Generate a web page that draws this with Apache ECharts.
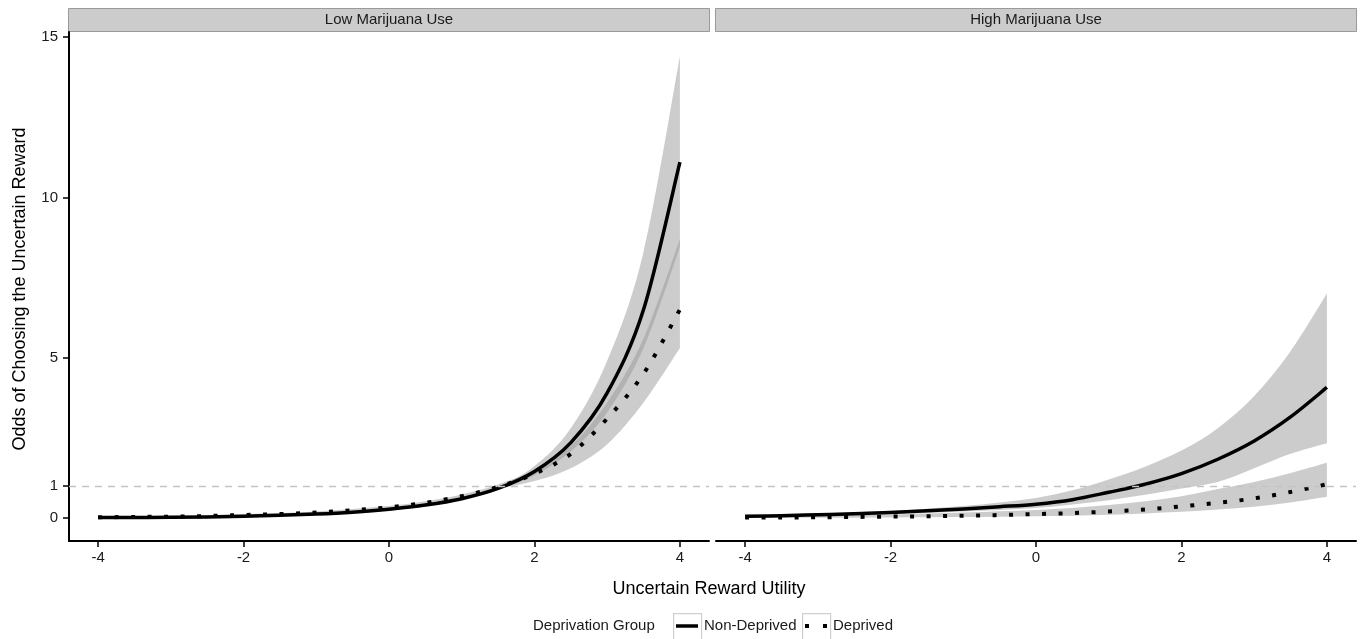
<!DOCTYPE html>
<html>
<head>
<meta charset="utf-8">
<script src="https://cdn.jsdelivr.net/npm/echarts@6/dist/echarts.min.js"></script>
<style>
  html, body { margin: 0; padding: 0; background: #fff; }
  #container { width: 1361px; height: 639px; }
</style>
</head>
<body>
<div id="container"></div>
<script>
// utility values where the curves were read
var xs = [-4, -3.5, -3, -2.5, -2, -1.5, -1, -0.5, 0, 0.5, 1, 1.5, 2, 2.5, 3, 3.5, 4];
var panels = ['Low Marijuana Use', 'High Marijuana Use'];
var groups = ['Non-Deprived', 'Deprived'];
var yTicks = [0, 1, 5, 10, 15];
var xTicks = [-4, -2, 0, 2, 4];

// Low marijuana use
var lowNonDep      = [0.01, 0.015, 0.02, 0.03, 0.05, 0.08, 0.12, 0.18, 0.27, 0.4, 0.6, 0.92, 1.45, 2.35, 3.9, 6.5, 11.1];
var lowNonDepUpper = [0.016, 0.022, 0.029, 0.043, 0.068, 0.1, 0.15, 0.21, 0.31, 0.44, 0.64, 0.97, 1.62, 2.8, 4.9, 8.3, 14.4];
var lowNonDepLower = [0.006, 0.01, 0.014, 0.021, 0.037, 0.062, 0.096, 0.15, 0.235, 0.36, 0.57, 0.88, 1.33, 2.08, 3.3, 5.3, 8.45];
var lowDep         = [0.02, 0.03, 0.04, 0.06, 0.09, 0.12, 0.17, 0.24, 0.33, 0.47, 0.68, 0.97, 1.38, 2.0, 3.1, 4.5, 6.5];
var lowDepUpper    = [0.03, 0.04, 0.055, 0.08, 0.115, 0.15, 0.2, 0.28, 0.37, 0.52, 0.73, 1.04, 1.5, 2.25, 3.6, 5.6, 8.7];
var lowDepLower    = [0.013, 0.02, 0.03, 0.045, 0.07, 0.095, 0.14, 0.2, 0.29, 0.42, 0.62, 0.9, 1.15, 1.55, 2.3, 3.6, 5.3];

// High marijuana use
var highNonDep      = [0.05, 0.07, 0.1, 0.13, 0.17, 0.22, 0.28, 0.35, 0.43, 0.57, 0.8, 1.05, 1.38, 1.83, 2.4, 3.15, 4.07];
var highNonDepUpper = [0.07, 0.1, 0.13, 0.17, 0.22, 0.29, 0.37, 0.48, 0.62, 0.86, 1.2, 1.6, 2.1, 2.8, 3.8, 5.2, 7.0];
var highNonDepLower = [0.035, 0.05, 0.07, 0.09, 0.12, 0.15, 0.2, 0.25, 0.31, 0.42, 0.55, 0.72, 0.92, 1.12, 1.55, 2.0, 2.33];
var highDep         = [0.01, 0.015, 0.02, 0.03, 0.04, 0.05, 0.07, 0.09, 0.12, 0.15, 0.2, 0.26, 0.36, 0.47, 0.61, 0.81, 1.05];
var highDepUpper    = [0.04, 0.05, 0.07, 0.09, 0.11, 0.14, 0.17, 0.21, 0.25, 0.31, 0.4, 0.52, 0.68, 0.9, 1.12, 1.4, 1.72];
var highDepLower    = [0.003, 0.004, 0.006, 0.009, 0.012, 0.018, 0.025, 0.035, 0.05, 0.07, 0.1, 0.14, 0.19, 0.26, 0.35, 0.48, 0.66];

var FONT = '"Liberation Sans", Arial, Helvetica, sans-serif';
var SOLID = { stroke: '#000', lineWidth: 3.5, fill: null };
var DOTTED = { stroke: '#000', lineWidth: 4, lineDash: [4, 12.5], lineCap: 'butt', fill: null };

// catmull-rom through the projected points -> bezier path segments
function curve(p) {
    var s = '';
    var n = p.length;
    for (var i = 0; i < n - 1; i++) {
        var p0 = p[Math.max(i - 1, 0)], p1 = p[i], p2 = p[i + 1], p3 = p[Math.min(i + 2, n - 1)];
        var c1x = p1[0] + (p2[0] - p0[0]) / 6, c1y = p1[1] + (p2[1] - p0[1]) / 6;
        var c2x = p2[0] - (p3[0] - p1[0]) / 6, c2y = p2[1] - (p3[1] - p1[1]) / 6;
        s += 'C' + c1x + ',' + c1y + ' ' + c2x + ',' + c2y + ' ' + p2[0] + ',' + p2[1];
    }
    return s;
}

function project(api, ys) {
    return xs.map(function (x, i) { return api.coord([x, ys[i]]); });
}

function band(idx, upper, lower) {
    return {
        type: 'custom',
        xAxisIndex: idx,
        yAxisIndex: idx,
        silent: true,
        z: 1,
        data: [[0, 0]],
        renderItem: function (params, api) {
            var up = project(api, upper);
            var lo = project(api, lower).reverse();
            var d = 'M' + up[0][0] + ',' + up[0][1] + curve(up) +
                    'L' + lo[0][0] + ',' + lo[0][1] + curve(lo) + 'Z';
            return {
                type: 'path',
                shape: { pathData: d },
                style: { fill: 'rgba(150,150,150,0.486)', stroke: null }
            };
        }
    };
}

function line(idx, name, ys, dotted) {
    var s = {
        type: 'custom',
        name: name,
        xAxisIndex: idx,
        yAxisIndex: idx,
        silent: true,
        z: dotted ? 4 : 3,
        data: [[0, 0]],
        renderItem: function (params, api) {
            var p = project(api, ys);
            return {
                type: 'path',
                shape: { pathData: 'M' + p[0][0] + ',' + p[0][1] + curve(p) },
                style: dotted ? DOTTED : SOLID
            };
        }
    };
    if (dotted) {
        s.markLine = {
            silent: true,
            symbol: 'none',
            label: { show: false },
            lineStyle: { color: '#c4c4c4', type: [7, 6], width: 1.3 },
            data: [{ yAxis: 1 }]
        };
    }
    return s;
}

var grids = [
    { left: 69, width: 640, top: 32, height: 509 },
    { left: 716, width: 640, top: 32, height: 509 }
];

var xAxes = grids.map(function (g, i) {
    return {
        type: 'value', gridIndex: i, min: -4.4, max: 4.4,
        axisLine: { show: true, onZero: false, lineStyle: { color: '#000', width: 2 } },
        axisTick: { show: true, length: 6, customValues: xTicks, lineStyle: { color: '#000', width: 1.5 } },
        axisLabel: { customValues: xTicks, margin: 9, color: '#1a1a1a', fontSize: 15, fontFamily: FONT },
        splitLine: { show: false }
    };
});

var yAxes = grids.map(function (g, i) {
    return {
        type: 'value', gridIndex: i, min: -0.72, max: 15.16,
        axisLine: { show: i === 0, onZero: false, lineStyle: { color: '#000', width: 2 } },
        axisTick: { show: i === 0, length: 6, customValues: yTicks, lineStyle: { color: '#000', width: 1.5 } },
        axisLabel: { show: i === 0, customValues: yTicks, margin: 11, color: '#1a1a1a', fontSize: 15, fontFamily: FONT },
        splitLine: { show: false }
    };
});

var series = [
    band(0, lowNonDepUpper, lowNonDepLower),
    band(0, lowDepUpper, lowDepLower),
    band(1, highNonDepUpper, highNonDepLower),
    band(1, highDepUpper, highDepLower),
    line(0, groups[0], lowNonDep, false),
    line(0, groups[1], lowDep, true),
    line(1, groups[0], highNonDep, false),
    line(1, groups[1], highDep, true)
];

// facet strips, axis titles and the legend
var graphic = [];
grids.forEach(function (g, i) {
    graphic.push({
        type: 'rect', left: g.left - 1, top: 8,
        shape: { width: g.width + 1, height: 23 },
        style: { fill: '#cccccc', stroke: '#9a9a9a', lineWidth: 1 }
    });
    graphic.push({
        type: 'text', x: g.left + g.width / 2, y: 20,
        style: { text: panels[i], fill: '#1a1a1a', font: '15px ' + FONT, textAlign: 'center', textVerticalAlign: 'middle' }
    });
});
graphic.push({
    type: 'text', x: 709, y: 589,
    style: { text: 'Uncertain Reward Utility', fill: '#000', font: '18px ' + FONT, textAlign: 'center', textVerticalAlign: 'middle' }
});
graphic.push({
    type: 'text', x: 20, y: 289, rotation: Math.PI / 2,
    style: { text: 'Odds of Choosing the Uncertain Reward', fill: '#000', font: '18px ' + FONT, textAlign: 'center', textVerticalAlign: 'middle' }
});
graphic.push({
    type: 'text', x: 533, y: 626,
    style: { text: 'Deprivation Group', fill: '#1a1a1a', font: '15px ' + FONT, textAlign: 'left', textVerticalAlign: 'middle' }
});
var keyX = [673, 802];
keyX.forEach(function (bx, i) {
    graphic.push({
        type: 'rect', left: bx, top: 613,
        shape: { width: 28, height: 30 },
        style: { fill: '#fff', stroke: '#cfcfcf', lineWidth: 1.2 }
    });
    graphic.push({
        type: 'line',
        shape: { x1: bx + 3, y1: 626, x2: bx + 25, y2: 626 },
        style: i === 0 ? SOLID : { stroke: '#000', lineWidth: 4, lineDash: [4, 14], lineCap: 'butt' }
    });
    graphic.push({
        type: 'text', x: bx + 31, y: 626,
        style: { text: groups[i], fill: '#1a1a1a', font: '15px ' + FONT, textAlign: 'left', textVerticalAlign: 'middle' }
    });
});

var option = {
    animation: false,
    backgroundColor: '#ffffff',
    grid: grids,
    xAxis: xAxes,
    yAxis: yAxes,
    graphic: graphic,
    series: series
};

var myChart = echarts.init(document.getElementById('container'));
myChart.setOption(option);
</script>
</body>
</html>
